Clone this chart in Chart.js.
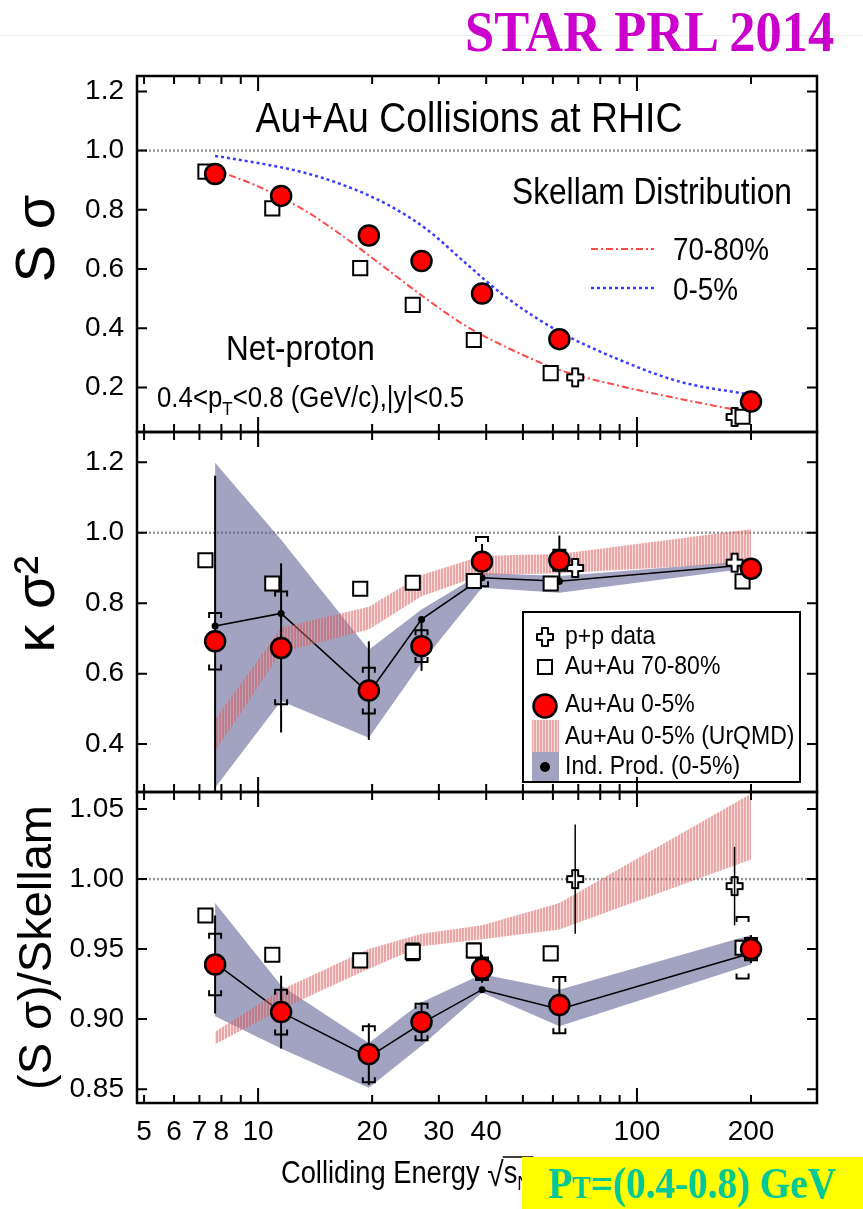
<!DOCTYPE html>
<html>
<head>
<meta charset="utf-8">
<title>STAR net-proton moments</title>
<script src="https://cdn.jsdelivr.net/npm/chart.js@4.4.1/dist/chart.umd.min.js"></script>
<style>
  html, body { margin:0; padding:0; background:#fff; }
  body { position:relative; width:863px; height:1209px; overflow:hidden; }
  canvas { position:absolute; left:0; }
  #c1 { top:0; } #c2 { top:424px; } #c3 { top:784px; }
  #topline { position:absolute; left:0; top:35px; width:863px; height:1px; background:#ededed; }
  #star { position:absolute; right:29px; top:3px; font-family:"Liberation Serif","Times New Roman",serif; font-weight:bold; font-size:57px; line-height:57px; color:#cc00cc; transform:scaleX(0.92); transform-origin:right center; white-space:nowrap; }
  #ptbox { position:absolute; left:522px; top:1157px; width:341px; height:52px; background:#ffff00; }
  #ptbox span { position:absolute; left:26px; top:0; font-family:"Liberation Serif",serif; font-weight:bold; font-size:45px; line-height:52px; color:#00c896; transform:scaleX(0.87); transform-origin:left center; white-space:nowrap; }
  #ptbox small { font-size:32px; }
</style>
</head>
<body>
<div id="topline"></div>
<canvas id="c1" width="863" height="440"></canvas>
<canvas id="c2" width="863" height="376"></canvas>
<canvas id="c3" width="863" height="425"></canvas>
<div id="star">STAR PRL 2014</div>
<div id="ptbox"><span>P<small>T</small>=(0.4-0.8) GeV</span></div>
<script>
// ================= DATA =================
const energies     = [7.7, 11.5, 19.6, 27, 39, 62.4, 200];
const energies7080 = [7.26, 10.9, 18.6, 25.6, 37.1, 59.2, 190];
const energiesPP   = [68.7, 181];
const skellamE     = [7.7, 10, 13, 17, 22, 28, 35, 45, 62.4, 90, 130, 200];

const xTickValues = [5, 6, 7, 8, 9, 10, 20, 30, 40, 50, 60, 70, 80, 90, 100, 200];
const xTickLabels = [5, 6, 7, 8, 10, 20, 30, 40, 100, 200];
const yTicksSS    = [0.2, 0.4, 0.6, 0.8, 1.0, 1.2];
const yTicksKS    = [0.4, 0.6, 0.8, 1.0, 1.2];
const yTicksRatio = [0.85, 0.90, 0.95, 1.00, 1.05];

// Panel 1 : S sigma
const ss05        = [0.921, 0.847, 0.713, 0.627, 0.517, 0.363, 0.152];
const ss7080      = [0.929, 0.805, 0.603, 0.479, 0.360, 0.248, 0.101];
const ssPP        = [0.234, 0.100];
const skellam05   = [0.982, 0.958, 0.928, 0.881, 0.817, 0.732, 0.624, 0.506, 0.388, 0.293, 0.219, 0.175];
const skellam7080 = [0.935, 0.879, 0.805, 0.705, 0.597, 0.496, 0.411, 0.337, 0.259, 0.205, 0.161, 0.114];

// Panel 2 : kappa sigma^2
const ks05     = [0.692, 0.673, 0.552, 0.678, 0.918, 0.922, 0.898];
const ks05Stat = [0.470, 0.240, 0.140, 0.070, 0.050, 0.070, 0.020];
const ks05Sys  = [0.080, 0.160, 0.065, 0.045, 0.070, 0.030, 0.020];
const ks7080   = [0.922, 0.856, 0.841, 0.858, 0.863, 0.856, 0.862];
const ksPP     = [0.900, 0.915];
const ksInd    = [0.735, 0.771, 0.545, 0.754, 0.872, 0.862, 0.910];
const ksIndHi  = [1.199, 0.980, 0.668, 0.782, 0.886, 0.877, 0.920];
const ksIndLo  = [0.276, 0.522, 0.418, 0.631, 0.844, 0.830, 0.900];
const ksUrHi   = [0.470, 0.730, 0.790, 0.880, 0.935, 0.940, 1.010];
const ksUrLo   = [0.380, 0.660, 0.725, 0.820, 0.880, 0.885, 0.915];

// Panel 3 : (S sigma)/Skellam
const rt05      = [0.939, 0.905, 0.875, 0.898, 0.936, 0.910, 0.950];
const rt05Stat  = [0.035, 0.026, 0.022, 0.014, 0.010, 0.020, 0.010];
const rt05Sys   = [0.022, 0.016, 0.020, 0.013, 0.008, 0.020, 0.008];
const rt7080    = [0.974, 0.946, 0.942, 0.948, 0.949, 0.947, 0.951];
const rt7080Sys = [0.004, 0.003, 0.003, 0.006, 0.005, 0.004, 0.022];
const rtPP      = [1.000, 0.995];
const rtPPErr   = [0.039, 0.028];
const rtInd     = [0.940, 0.905, 0.873, 0.897, 0.921, 0.907, 0.947];
const rtIndHi   = [0.983, 0.924, 0.883, 0.912, 0.932, 0.921, 0.960];
const rtIndLo   = [0.902, 0.879, 0.851, 0.881, 0.919, 0.895, 0.939];
const rtUrHi    = [0.891, 0.921, 0.950, 0.961, 0.967, 0.983, 1.061];
const rtUrLo    = [0.882, 0.907, 0.936, 0.952, 0.957, 0.964, 1.014];

const legendLabels  = ['p+p data', 'Au+Au 70-80%', 'Au+Au 0-5%', 'Au+Au 0-5% (UrQMD)', 'Ind. Prod. (0-5%)'];
const skellamLabels = ['70-80%', '0-5%'];

// ================= STYLE =================
const SANS = '"Liberation Sans", Arial, Helvetica, sans-serif';
function hasFont(name) {
  const g = document.createElement('canvas').getContext('2d');
  const s = 'Au+Au 0.85 Collisions 1.2';
  g.font = '40px monospace'; const a = g.measureText(s).width;
  g.font = '40px "' + name + '", monospace'; const b = g.measureText(s).width;
  return Math.abs(a - b) > 1;
}
const HAS_NARROW = hasFont('Liberation Sans Narrow');
const TICK_FONT = HAS_NARROW ? { family: '"Liberation Sans Narrow"', size: 31 } : { family: SANS, size: 28 };
Chart.defaults.font.family = SANS;
Chart.defaults.color = '#000';

const X_MIN = 4.79, X_MAX = 298.7;
const RED = '#ff0000';
const BAND_IND = 'rgba(105,105,155,0.62)';

function makePattern() {
  const c = document.createElement('canvas'); c.width = 3; c.height = 4;
  const g = c.getContext('2d');
  g.fillStyle = 'rgba(215,95,95,0.55)'; g.fillRect(0, 0, 2, 4);
  g.fillStyle = 'rgba(235,160,160,0.35)'; g.fillRect(2, 0, 1, 4);
  return document.createElement('canvas').getContext('2d').createPattern(c, 'repeat');
}
const BAND_UR = makePattern();

function makeCross() {
  const c = document.createElement('canvas'); c.width = 20; c.height = 22;
  const g = c.getContext('2d');
  const cx = 10, cy = 11, a = 3, L = 8, Lv = 9;
  g.beginPath();
  g.moveTo(cx - a, cy - Lv); g.lineTo(cx + a, cy - Lv); g.lineTo(cx + a, cy - a); g.lineTo(cx + L, cy - a);
  g.lineTo(cx + L, cy + a); g.lineTo(cx + a, cy + a); g.lineTo(cx + a, cy + Lv); g.lineTo(cx - a, cy + Lv);
  g.lineTo(cx - a, cy + a); g.lineTo(cx - L, cy + a); g.lineTo(cx - L, cy - a); g.lineTo(cx - a, cy - a);
  g.closePath();
  g.fillStyle = '#fff'; g.fill(); g.lineWidth = 2; g.strokeStyle = '#000'; g.lineJoin = 'round'; g.stroke();
  return c;
}
const CROSS = makeCross();

const pts = (xs, ys) => xs.map((x, i) => ({ x: x, y: ys[i] }));

function markerDatasets(d) {
  const ds = [];
  if (d.indHi) {
    ds.push({ label: 'ind-band-hi', data: pts(energies, d.indHi), fill: '+1', backgroundColor: BAND_IND, borderWidth: 0, pointRadius: 0, order: 20 });
    ds.push({ label: 'ind-band-lo', data: pts(energies, d.indLo), fill: false, borderWidth: 0, pointRadius: 0, order: 20 });
    ds.push({ label: legendLabels[4], data: pts(energies, d.ind), borderColor: '#000', borderWidth: 1.5, pointRadius: 3.5, pointBackgroundColor: '#000', pointBorderWidth: 0, fill: false, order: 15 });
    ds.push({ label: 'ur-band-hi', data: pts(energies, d.urHi), fill: '+1', backgroundColor: BAND_UR, borderWidth: 0, pointRadius: 0, order: 12 });
    ds.push({ label: 'ur-band-lo', data: pts(energies, d.urLo), fill: false, borderWidth: 0, pointRadius: 0, order: 12 });
  }
  ds.push({ label: legendLabels[0], data: pts(energiesPP, d.pp), showLine: false, pointStyle: CROSS, pointRadius: 8, order: 6 });
  ds.push({ label: legendLabels[1], data: pts(energies7080, d.y7080), showLine: false, pointStyle: 'rect', pointRadius: 10, pointBackgroundColor: '#fff', pointBorderColor: '#000', pointBorderWidth: 2, order: 4 });
  ds.push({ label: legendLabels[2], data: pts(energies, d.y05), showLine: false, pointStyle: 'circle', pointRadius: 10, pointBackgroundColor: RED, pointBorderColor: '#000', pointBorderWidth: 2.5, order: 1 });
  return ds;
}

// ================= DRAW HELPERS =================
function drawText(ctx, s, x, y, size, o) {
  o = o || {};
  const sx = o.sx || 0.89;
  ctx.save();
  ctx.font = (o.bold ? 'bold ' : '') + size + 'px ' + (o.family || SANS);
  ctx.fillStyle = o.color || '#000';
  ctx.textAlign = o.align || 'left';
  ctx.textBaseline = o.baseline || 'alphabetic';
  ctx.translate(x, y); ctx.scale(sx, 1);
  ctx.fillText(s, 0, 0);
  const w = ctx.measureText(s).width * sx;
  ctx.restore();
  return w;
}

function drawFrame(chart, yTicks) {
  const { ctx, chartArea: a, scales: { x, y } } = chart;
  ctx.save();
  ctx.strokeStyle = '#000';
  ctx.lineWidth = 2;
  ctx.beginPath();
  yTicks.forEach(v => {
    const py = y.getPixelForValue(v);
    ctx.moveTo(a.left, py); ctx.lineTo(a.left + 10, py);
    ctx.moveTo(a.right, py); ctx.lineTo(a.right - 10, py);
  });
  xTickValues.forEach(v => {
    const px = x.getPixelForValue(v);
    const L = (v === 10 || v === 100) ? 15 : 8;
    ctx.moveTo(px, a.bottom); ctx.lineTo(px, a.bottom - L);
    ctx.moveTo(px, a.top); ctx.lineTo(px, a.top + L);
  });
  ctx.stroke();
  ctx.lineWidth = 2.5;
  ctx.strokeRect(a.left, a.top, a.right - a.left, a.bottom - a.top);
  ctx.restore();
}

function drawUnity(chart) {
  const { ctx, chartArea: a, scales: { y } } = chart;
  const py = y.getPixelForValue(1.0);
  ctx.save();
  ctx.strokeStyle = 'rgba(140,140,140,0.9)'; ctx.lineWidth = 2.5; ctx.setLineDash([2, 2]);
  ctx.beginPath(); ctx.moveTo(a.left, py); ctx.lineTo(a.right, py); ctx.stroke();
  ctx.restore();
}

function drawErrors(chart, specs) {
  const { ctx, chartArea: a, scales: { x, y } } = chart;
  ctx.save();
  ctx.beginPath(); ctx.rect(a.left, a.top, a.right - a.left, a.bottom - a.top); ctx.clip();
  ctx.strokeStyle = '#000';
  specs.forEach(s => s.xs.forEach((xv, i) => {
    const px = x.getPixelForValue(xv), v = s.ys[i];
    if (s.stat) {
      ctx.lineWidth = s.thin ? 1.5 : 2;
      const t = y.getPixelForValue(v + s.stat[i]), b = y.getPixelForValue(v - s.stat[i]);
      ctx.beginPath(); ctx.moveTo(px, t); ctx.lineTo(px, b); ctx.stroke();
    }
    if (s.sys) {
      ctx.lineWidth = 2;
      const t = y.getPixelForValue(v + s.sys[i]), b = y.getPixelForValue(v - s.sys[i]);
      const w = 6, h = 5;
      ctx.beginPath();
      ctx.moveTo(px - w, t + h); ctx.lineTo(px - w, t); ctx.lineTo(px + w, t); ctx.lineTo(px + w, t + h);
      ctx.moveTo(px - w, b - h); ctx.lineTo(px - w, b); ctx.lineTo(px + w, b); ctx.lineTo(px + w, b - h);
      ctx.stroke();
    }
  }));
  ctx.restore();
}

function panelPlugin(p) {
  return {
    id: 'panel' + p.key,
    beforeDatasetsDraw(chart) { drawUnity(chart); },
    beforeDatasetDraw(chart, args) {
      if (p.errors && chart.data.datasets[args.index].label === legendLabels[1]) drawErrors(chart, p.errors);
    },
    afterDraw(chart) {
      if (p.annotate) p.annotate(chart.ctx, chart);
      drawFrame(chart, p.yTicks);
    }
  };
}

function zeroPad(s) { s.paddingTop = 0; s.paddingBottom = 0; s.paddingLeft = 0; s.paddingRight = 0; }

function makeChart(id, p) {
  return new Chart(document.getElementById(id), {
    type: 'line',
    data: { datasets: p.datasets },
    options: {
      responsive: false, animation: false, devicePixelRatio: 1,
      layout: { autoPadding: false, padding: { left: 0, right: 46, top: p.padTop, bottom: p.padBottom } },
      plugins: { legend: { display: false }, tooltip: { enabled: false } },
      elements: { line: { tension: 0 } },
      scales: {
        x: {
          type: 'logarithmic', min: X_MIN, max: X_MAX, display: p.showX,
          afterBuildTicks: s => { s.ticks = xTickValues.map(v => ({ value: v })); },
          afterFit: s => { if (p.showX) s.height = p.xHeight; zeroPad(s); },
          grid: { display: false, drawTicks: false }, border: { display: false },
          ticks: { autoSkip: false, maxRotation: 0, minRotation: 0, padding: 12, font: TICK_FONT, color: '#000',
                   callback: v => xTickLabels.includes(v) ? String(v) : '' }
        },
        y: {
          type: 'linear', min: p.ymin, max: p.ymax,
          afterBuildTicks: s => { s.ticks = p.yTicks.map(v => ({ value: v })); },
          afterFit: s => { s.width = 137; zeroPad(s); },
          grid: { display: false, drawTicks: false }, border: { display: false },
          ticks: { padding: 13, font: TICK_FONT, color: '#000', callback: v => Number(v).toFixed(p.dec) },
          title: { display: true, text: p.title, color: '#000', font: { family: SANS, size: p.titleSize, lineHeight: 1.2 }, padding: { top: p.titlePad, bottom: 0 } }
        }
      }
    },
    plugins: [panelPlugin(p)]
  });
}

// ================= PANEL 1 =================
const ds1 = [
  { label: 'Skellam ' + skellamLabels[1], data: pts(skellamE, skellam05), borderColor: '#3c3cff', borderWidth: 2.5, borderDash: [3, 3], pointRadius: 0, cubicInterpolationMode: 'monotone', fill: false, order: 10 },
  { label: 'Skellam ' + skellamLabels[0], data: pts(skellamE, skellam7080), borderColor: '#ff4a4a', borderWidth: 2, borderDash: [7, 3, 2, 3], pointRadius: 0, cubicInterpolationMode: 'monotone', fill: false, order: 10 }
].concat(markerDatasets({ pp: ssPP, y7080: ss7080, y05: ss05 }));

makeChart('c1', {
  key: 1, datasets: ds1, padTop: 76, padBottom: 8, showX: false,
  ymin: 0.0493, ymax: 1.252, yTicks: yTicksSS, dec: 1,
  title: '  S \u03C3', titleSize: 56, titlePad: 5,
  annotate(ctx) {
    drawText(ctx, 'Au+Au Collisions at RHIC', 469, 132, 42, { align: 'center', sx: 0.89 });
    drawText(ctx, 'Skellam Distribution', 512, 204, 36, { sx: 0.88 });
    ctx.save();
    ctx.lineWidth = 2; ctx.strokeStyle = '#ff4a4a'; ctx.setLineDash([7, 3, 2, 3]);
    ctx.beginPath(); ctx.moveTo(591, 249); ctx.lineTo(654, 249); ctx.stroke();
    ctx.lineWidth = 2.5; ctx.strokeStyle = '#3c3cff'; ctx.setLineDash([3, 3]);
    ctx.beginPath(); ctx.moveTo(591, 288); ctx.lineTo(656, 288); ctx.stroke();
    ctx.restore();
    drawText(ctx, skellamLabels[0], 673, 260, 32, { sx: 0.87 });
    drawText(ctx, skellamLabels[1], 673, 300, 32, { sx: 0.87 });
    drawText(ctx, 'Net-proton', 226, 360, 35, { sx: 0.9 });
    let x = 157;
    x += drawText(ctx, '0.4<p', x, 407, 29, { sx: 0.89 });
    x += drawText(ctx, 'T', x, 415, 19, { sx: 0.89 });
    drawText(ctx, '<0.8 (GeV/c),|y|<0.5', x, 407, 29, { sx: 0.89 });
  }
});

// ================= PANEL 2 =================
makeChart('c2', {
  key: 2,
  datasets: markerDatasets({ pp: ksPP, y7080: ks7080, y05: ks05, ind: ksInd, indHi: ksIndHi, indLo: ksIndLo, urHi: ksUrHi, urLo: ksUrLo }),
  padTop: 8, padBottom: 8, showX: false,
  ymin: 0.264, ymax: 1.286, yTicks: yTicksKS, dec: 1,
  title: ' \u03BA \u03C3\u00B2', titleSize: 56, titlePad: 5,
  errors: [{ xs: energies, ys: ks05, stat: ks05Stat, sys: ks05Sys }],
  annotate(ctx) {
    const T = 424;
    ctx.save();
    ctx.fillStyle = '#fff'; ctx.fillRect(523, 612 - T, 277, 170);
    ctx.lineWidth = 2; ctx.strokeStyle = '#000'; ctx.strokeRect(523, 612 - T, 277, 170);
    ctx.drawImage(CROSS, 545 - 10, 637 - T - 11);
    ctx.fillStyle = '#fff'; ctx.lineWidth = 2;
    ctx.beginPath(); ctx.rect(538, 667 - T - 7, 14, 14); ctx.fill(); ctx.stroke();
    ctx.fillStyle = RED; ctx.lineWidth = 2.5;
    ctx.beginPath(); ctx.arc(545, 706 - T, 11.5, 0, Math.PI * 2); ctx.fill(); ctx.stroke();
    ctx.fillStyle = BAND_UR; ctx.fillRect(532, 720 - T, 27, 32);
    ctx.fillStyle = BAND_IND; ctx.fillRect(532, 752 - T, 27, 29);
    ctx.fillStyle = '#000'; ctx.beginPath(); ctx.arc(545, 767 - T, 5, 0, Math.PI * 2); ctx.fill();
    ctx.restore();
    const ys = [637, 667, 705, 737, 767];
    legendLabels.forEach((s, i) => drawText(ctx, s, 565, ys[i] - T, 25, { sx: 0.92, baseline: 'middle' }));
  }
});

// ================= PANEL 3 =================
makeChart('c3', {
  key: 3,
  datasets: markerDatasets({ pp: rtPP, y7080: rt7080, y05: rt05, ind: rtInd, indHi: rtIndHi, indLo: rtIndLo, urHi: rtUrHi, urLo: rtUrLo }),
  padTop: 8, padBottom: 0, showX: true, xHeight: 106,
  ymin: 0.8401, ymax: 1.0622, yTicks: yTicksRatio, dec: 2,
  title: '(S \u03C3)/Skellam', titleSize: 47, titlePad: 10,
  errors: [
    { xs: energies, ys: rt05, stat: rt05Stat, sys: rt05Sys },
    { xs: energiesPP, ys: rtPP, stat: rtPPErr, sys: null, thin: true },
    { xs: energies7080, ys: rt7080, stat: null, sys: rt7080Sys }
  ],
  annotate(ctx) {
    const by = 1183 - 784;
    let x = 281;
    x += drawText(ctx, 'Colliding Energy ', x, by, 31, { sx: 0.88 });
    x += drawText(ctx, '\u221A', x, by + 3, 34, { sx: 0.88 });
    const ws = drawText(ctx, 's', x, by, 31, { sx: 0.88 });
    ctx.save(); ctx.strokeStyle = '#000'; ctx.lineWidth = 1.5;
    ctx.beginPath(); ctx.moveTo(x - 1, by - 26); ctx.lineTo(x + ws + 16, by - 26); ctx.stroke(); ctx.restore();
    x += ws;
    x += drawText(ctx, 'NN', x, by + 7, 20, { sx: 0.88 });
    drawText(ctx, ' (GeV)', x, by, 31, { sx: 0.88 });
  }
});
</script>
</body>
</html>
